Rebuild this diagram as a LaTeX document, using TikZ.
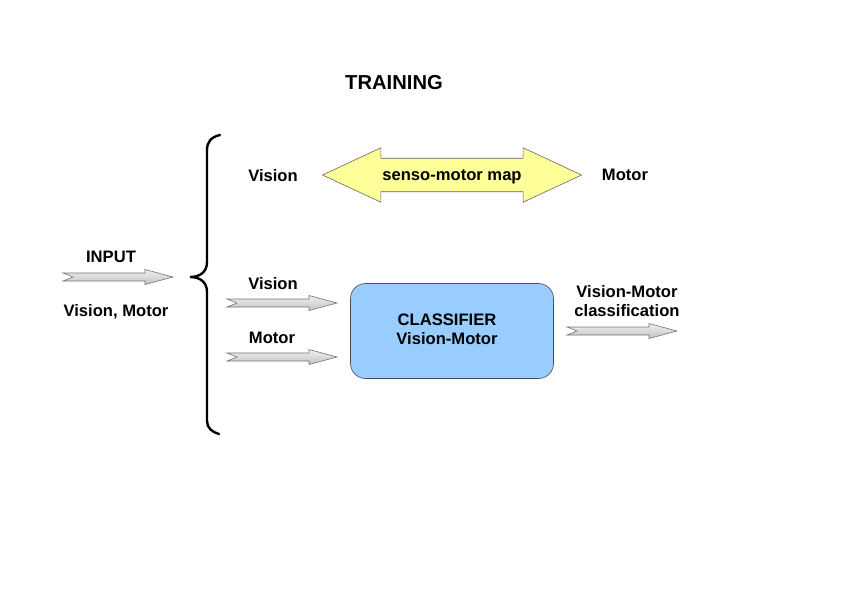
\documentclass[tikz,border=0pt]{standalone}
\usepackage{fontspec}
\setmainfont{Liberation Sans}
\usetikzlibrary{shapes.arrows,positioning}
\definecolor{mapyellow}{HTML}{FFFF99}
\definecolor{clsblue}{HTML}{99CCFF}
\newcommand{\notcharrow}[2]{% tail coordinate, length
  \draw[greyarrow] (#1) ++(0,-4) -- ++({#2-28},0) -- ++(0,-3.5) -- ++(28,7.5)
     -- ++(-28,7.5) -- ++(0,-3.5) -- ++({28-#2},0) -- ++(10,-4) -- cycle;}

\begin{document}
\begin{tikzpicture}[x=1pt, y=-1pt,
  mytext/.style={font=\fontsize{16.6}{19}\selectfont\bfseries, inner sep=0pt,
    text height=11.9pt, text depth=0pt},
  greyarrow/.style={draw=black!55, line width=0.6pt, top color=black!6,
    bottom color=black!24}]
   \useasboundingbox (0,0) rectangle (842,595);
   \node[mytext,font=\fontsize{20.2}{23}\selectfont\bfseries,text height=14.5pt] (t) at (394, 82) {TRAINING};
   % input side
   \node[mytext] (in) at (111, 257) {INPUT};
   \node[mytext] (vm) at (116, 311) {Vision, Motor};
   \coordinate (in0) at (63, 277);
   \notcharrow{in0}{110}
   % brace
   \coordinate (btop) at (220, 135);
   \coordinate (btip) at (190, 277);
   \coordinate (bbot) at (219, 434);
   \draw[line width=2.4pt, line cap=round] (btop) .. controls (211,137) and (207,142) .. (207,150)
        -- (207,262) .. controls (207,272) and (200,277) .. (btip)
        .. controls (200,277) and (207,282) .. (207,292)
        -- (207,421) .. controls (207,428) and (212,432) .. (bbot);
   % senso-motor map
   \node[mytext] (v1) at (273, 176) {Vision};
   \node[mytext] (m1) at (625, 175) {Motor};
   \node[mytext, double arrow, draw=black!60, line width=0.6pt, fill=mapyellow,
        double arrow head extend=10.5pt, double arrow tip angle=50,
        minimum height=259pt, inner xsep=20pt, inner ysep=10.5pt] (map) at (452, 175)
        {senso-motor map};
   % classifier
   \node[mytext] (v2) at (273, 284) {Vision};
   \node[mytext] (m2) at (272, 338) {Motor};
   \coordinate (v2a) at (227, 303);
   \coordinate (m2a) at (227, 357);
   \notcharrow{v2a}{110}
   \notcharrow{m2a}{110}
   \node[draw=black!70, line width=0.6pt, rounded corners=15pt, fill=clsblue,
        minimum width=203pt, minimum height=95pt] (cls) at (452, 331) {};
   \node[mytext, align=center, text height=, text depth=] (clst) at (447, 329.5)
        {CLASSIFIER\\Vision-Motor};
   \node[mytext, align=center, text height=, text depth=] (out) at (627, 301.5)
        {Vision-Motor\\classification};
   \coordinate (outa) at (567, 331);
   \notcharrow{outa}{110}
  \end{tikzpicture}
\end{document}
